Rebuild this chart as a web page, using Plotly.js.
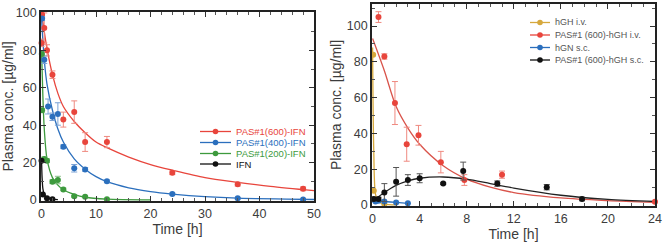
<!DOCTYPE html>
<html>
<head>
<meta charset="utf-8">
<script src="https://cdn.plot.ly/plotly-3.0.1.min.js"></script>
<style>html,body{margin:0;padding:0;background:#fff}#chart{width:664px;height:243px}</style>
</head>
<body>
<div id="chart"></div>
<script>
// ---------- Left panel: IFN fusions ----------
const p600IfnT = [0, 0.1, 0.5, 1, 2, 4, 6, 8, 12, 24, 36, 48];
const p600IfnC = [84, 99, 92, 80, 67, 43, 47, 31, 31, 14.6, 8.5, 6];
const p600IfnE = [2, 1.5, 8, 3, 2, 4, 6, 5, 3, 1, 1, 1];
const p600IfnFitT = [0, 0.5, 1, 2, 3, 4, 6, 8, 10, 12, 16, 20, 24, 30, 36, 42, 50];
const p600IfnFitC = [100, 90, 81, 67, 57, 50, 42, 36, 31, 28, 23, 19, 16, 12, 9.5, 7.3, 5];

const p400IfnT = [0.1, 0.5, 1.2, 2, 3, 4, 6, 8, 12, 24, 36, 48];
const p400IfnC = [97, 75, 50, 44.5, 46, 28.5, 17, 16.4, 10, 3.2, 1, 0.3];
const p400IfnE = [1, 2, 4, 2, 6, 1, 2, 1, 0.7, 0.5, 0.4, 0.3];
const p400IfnFitT = [0, 0.5, 1, 2, 3, 4, 6, 8, 10, 12, 16, 20, 24, 30, 36, 50];
const p400IfnFitC = [97, 75, 62, 48, 38, 31, 22, 16.5, 12.5, 9.8, 6.5, 4.5, 3.2, 1.8, 1, 0.3];

const p200IfnT = [0.05, 0.1, 0.5, 1, 2, 3, 4, 6, 8, 12];
const p200IfnC = [78, 48, 22, 21, 9.8, 10.7, 5.7, 2, 1.8, 0.4];
const p200IfnE = [1, 1, 1, 1, 1, 2, 0.7, 0.5, 0.4, 0.3];
const p200IfnFitT = [0, 0.25, 0.5, 1, 2, 3, 4, 6, 8, 12, 20];
const p200IfnFitC = [80, 55, 38, 22, 12, 8, 5.5, 3, 1.5, 0.5, 0.1];

const ifnT = [0, 0.25, 1, 2];
const ifnC = [21, 3, 1, 0.5];
const ifnFitT = [0, 0.1, 0.25, 0.5, 1, 2, 3];
const ifnFitC = [22, 12, 6, 3, 1.5, 0.5, 0.2];

const ifnLegendNames = ['PAS#1(600)-IFN', 'PAS#1(400)-IFN', 'PAS#1(200)-IFN', 'IFN'];

// ---------- Right panel: hGH fusions ----------
const hghIvT = [0.05, 0.1, 0.25, 1];
const hghIvC = [84, 8, 3, 0.5];
const hghIvFitT = [0, 0.1, 0.25, 0.5, 1, 2];
const hghIvFitC = [88, 30, 6, 2, 0.5, 0.1];

const pasHghIvT = [0.5, 1, 1.9, 2.9, 3.9, 5.8, 7.8, 11, 24];
const pasHghIvC = [105, 83, 57, 34, 39, 24, 14, 17, 1.9];
const pasHghIvE = [3, 1.5, 12, 9.5, 5.5, 6, 3, 2, 0.7];
const pasHghIvFitT = [0, 1, 2, 3, 4, 6, 8, 10, 12, 16, 20, 24];
const pasHghIvFitC = [93, 75, 55, 43, 34, 22, 14.5, 10, 7, 4, 2.5, 1.5];

const hgnScT = [0.25, 0.5, 1, 2, 3];
const hgnScC = [2, 2.5, 2, 1.5, 1];
const hgnScFitT = [0, 0.5, 1, 2, 3];
const hgnScFitC = [1.5, 2.3, 2, 1.5, 1];

const pasHghScT = [0.1, 0.5, 1, 2, 3, 4, 6, 7.7, 10.6, 14.8, 17.8];
const pasHghScC = [3.4, 3.4, 7, 13, 14, 15, 12, 19, 12, 10, 3.4];
const pasHghScE = [1, 1, 5, 8, 3, 2.5, 0.5, 5, 1.5, 1.5, 1];
const pasHghScFitT = [0, 1, 2, 3, 4, 6, 8, 10, 12, 16, 20, 24];
const pasHghScFitC = [2, 7, 11, 13.5, 15, 15.7, 14.5, 12, 9.5, 5.5, 3.2, 2];

const hghLegendNames = ['hGH i.v.', 'PAS#1 (600)-hGH i.v.', 'hGN s.c.', 'PAS#1 (600)-hGH s.c.'];

const cRed = '#e8453c', cBlue = '#2b6fbd', cGreen = '#3d9a3d', cBlack = '#111111', cGold = '#d6a83c';
const W = 664, H = 243;

function pts(x, y, e, color, xa, ya, ecolor) {
  const t = {x: x, y: y, mode: 'markers', type: 'scatter', xaxis: xa, yaxis: ya,
    marker: {color: color, size: 6}, showlegend: false, cliponaxis: false, hoverinfo: 'x+y'};
  if (e) t.error_y = {type: 'data', array: e, visible: true, color: ecolor || color, thickness: 1, width: 3};
  return t;
}
function fit(x, y, color, xa, ya) {
  return {x: x, y: y, mode: 'lines', type: 'scatter', xaxis: xa, yaxis: ya,
    line: {color: color, width: 1.3, shape: 'spline', smoothing: 0.8}, showlegend: false, hoverinfo: 'skip'};
}

const data = [
  fit(p600IfnFitT, p600IfnFitC, cRed, 'x', 'y'),
  fit(p400IfnFitT, p400IfnFitC, cBlue, 'x', 'y'),
  fit(p200IfnFitT, p200IfnFitC, cGreen, 'x', 'y'),
  fit(ifnFitT, ifnFitC, cBlack, 'x', 'y'),
  pts(p600IfnT, p600IfnC, p600IfnE, cRed, 'x', 'y', '#ef8a80'),
  pts(p400IfnT, p400IfnC, p400IfnE, cBlue, 'x', 'y', '#7aa2d6'),
  pts(p200IfnT, p200IfnC, p200IfnE, cGreen, 'x', 'y', '#86bf86'),
  pts(ifnT, ifnC, null, cBlack, 'x', 'y'),

  fit(hghIvFitT, hghIvFitC, cGold, 'x2', 'y2'),
  fit(pasHghIvFitT, pasHghIvFitC, '#d9534a', 'x2', 'y2'),
  fit(hgnScFitT, hgnScFitC, cBlue, 'x2', 'y2'),
  fit(pasHghScFitT, pasHghScFitC, '#222222', 'x2', 'y2'),
  pts(hghIvT, hghIvC, null, cGold, 'x2', 'y2'),
  pts(pasHghIvT, pasHghIvC, pasHghIvE, cRed, 'x2', 'y2', '#ef8a80'),
  pts(hgnScT, hgnScC, null, cBlue, 'x2', 'y2'),
  pts(pasHghScT, pasHghScC, pasHghScE, cBlack, 'x2', 'y2', '#555555')
];

// Compact legends (Plotly's built-in legend has a 19px minimum row height)
const shapes = [], annotations = [];
function addLegend(names, colors, textColors, lineX0, lineX1, textX, rowY, fontSize) {
  names.forEach(function (nm, i) {
    const y = 1 - rowY[i] / H;
    const cx = (lineX0 + lineX1) / 2;
    shapes.push({type: 'line', xref: 'paper', yref: 'paper', x0: lineX0 / W, x1: lineX1 / W, y0: y, y1: y,
      line: {color: colors[i], width: 1.3}});
    shapes.push({type: 'circle', xref: 'paper', yref: 'paper', x0: (cx - 2.8) / W, x1: (cx + 2.8) / W,
      y0: y - 2.8 / H, y1: y + 2.8 / H, fillcolor: colors[i], line: {color: colors[i], width: 0}});
    annotations.push({xref: 'paper', yref: 'paper', x: textX / W, y: y, xanchor: 'left', yanchor: 'middle',
      text: nm, showarrow: false, font: {size: fontSize, color: textColors[i], family: 'Liberation Sans, Arial, sans-serif'}});
  });
}
addLegend(ifnLegendNames, [cRed, cBlue, cGreen, cBlack], [cRed, cBlue, cGreen, cBlack],
  200, 231, 234, [131.5, 142.5, 153.5, 164], 9.5);
addLegend(hghLegendNames, [cGold, cRed, cBlue, cBlack], ['#555', '#555', '#555', '#555'],
  530, 550, 553, [22.5, 35, 47.5, 60], 9);

const tickFont = {family: 'Liberation Sans, Arial, sans-serif', size: 12.5, color: '#3c3c3c'};
const titleFont = {family: 'Liberation Sans, Arial, sans-serif', size: 14, color: '#3c3c3c'};
function ax(extra) {
  return Object.assign({
    showgrid: false, zeroline: false, showline: true, linecolor: '#222', linewidth: 1.8,
    mirror: 'allticks', ticks: 'inside', ticklen: 5, tickwidth: 1, tickcolor: '#333',
    tickfont: tickFont, automargin: false, fixedrange: true, ticklabeloverflow: 'allow'
  }, extra);
}

const layout = {
  width: W, height: H,
  margin: {l: 0, r: 0, t: 0, b: 0},
  paper_bgcolor: '#fff', plot_bgcolor: '#fff',
  font: {family: 'Liberation Sans, Arial, sans-serif'},
  showlegend: false,
  shapes: shapes,
  annotations: annotations,
  xaxis: ax({domain: [41/W, 314/W], range: [-0.1, 50], tick0: 0, dtick: 10,
    minor: {dtick: 2, ticks: 'inside', ticklen: 3, tickcolor: '#555'},
    title: {text: 'Time [h]', font: titleFont, standoff: 4}}),
  yaxis: ax({domain: [1 - 201/H, 1 - 12/H], range: [-0.5, 100.5], tick0: 0, dtick: 20,
    minor: {dtick: 10, ticks: 'inside', ticklen: 3, tickcolor: '#555'},
    title: {text: 'Plasma conc. [µg/ml]', font: titleFont, standoff: 3}}),
  xaxis2: ax({anchor: 'y2', domain: [372/W, 655/W], range: [-0.05, 24], tick0: 0, dtick: 4,
    minor: {dtick: 1, ticks: 'inside', ticklen: 3, tickcolor: '#555'},
    title: {text: 'Time [h]', font: titleFont, standoff: 2}}),
  yaxis2: ax({anchor: 'x2', domain: [1 - 206/H, 1 - 4/H], range: [-0.5, 112.3], tick0: 0, dtick: 20,
    minor: {dtick: 10, ticks: 'inside', ticklen: 3, tickcolor: '#555'},
    title: {text: 'Plasma conc. [µg/ml]', font: titleFont, standoff: 2}})
};

Plotly.newPlot('chart', data, layout, {displayModeBar: false, staticPlot: true});
</script>
</body>
</html>
